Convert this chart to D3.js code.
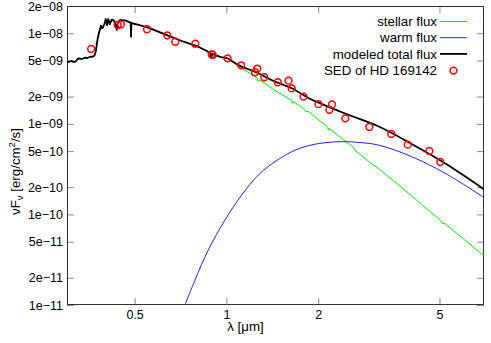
<html>
<head>
<script src="https://d3js.org/d3.v7.min.js"></script>
<style>
body { margin: 0; background: #fff; }
text { font-family: "Liberation Sans", Arial, sans-serif; }
</style>
</head>
<body>
<svg id="chart" width="491" height="343"></svg>
<script>
// photometry of HD 169142 (wavelength in micron, nuFnu in erg/cm2/s)
var sedWave = [0.36, 0.44, 0.451, 0.549, 0.64, 0.68, 0.791, 0.895, 0.902, 1.009, 1.118, 1.241, 1.263, 1.331,
    1.474, 1.599, 1.638, 1.791, 2.005, 2.221, 2.177, 2.456, 2.944, 3.476, 3.935, 4.631, 5.032];
var sedFlux = [6.71e-9, 1.234e-8, 1.256e-8, 1.107e-8, 9.5e-9, 8.07e-9, 7.67e-9, 5.86e-9, 5.76e-9, 5.29e-9, 4.43e-9,
    3.71e-9, 4.08e-9, 3.27e-9, 2.88e-9, 3.0e-9, 2.46e-9, 2.0e-9, 1.65e-9, 1.64e-9, 1.43e-9, 1.15e-9, 9.24e-10,
    7.73e-10, 5.89e-10, 5.02e-10, 3.79e-10];

// optical part of the model spectrum (stellar == total here)
var optWave = [0.300, 0.305, 0.311, 0.315, 0.319, 0.323, 0.327, 0.335, 0.344, 0.350, 0.357, 0.363, 0.369, 0.3727,
    0.3783, 0.3829, 0.3878, 0.3917, 0.3977, 0.4019, 0.4058, 0.4099, 0.4142, 0.4206, 0.4269, 0.4335, 0.4368, 0.440,
    0.4477, 0.465, 0.483, 0.4852, 0.4866, 0.488, 0.508, 0.5545, 0.6289, 0.7136, 0.8089, 0.8724, 0.880, 0.886,
    0.892, 0.900, 0.920, 0.960, 0.990];
var optFlux = [4.78e-9, 4.85e-9, 4.94e-9, 4.82e-9, 4.86e-9, 5.05e-9, 5.29e-9, 5.2e-9, 5.37e-9, 5.33e-9, 5.51e-9,
    5.5e-9, 5.65e-9, 6.26e-9, 8.8e-9, 1.04e-8, 1.213e-8, 1.135e-8, 1.256e-8, 1.437e-8, 1.234e-8, 1.437e-8,
    1.256e-8, 1.412e-8, 1.39e-8, 1.234e-8, 1.087e-8, 1.32e-8, 1.4e-8, 1.39e-8, 1.32e-8, 1.31e-8, 9.17e-9,
    1.29e-8, 1.256e-8, 1.152e-8, 9.74e-9, 8.22e-9, 7.11e-9, 6.26e-9, 5.6e-9, 6.0e-9, 5.5e-9, 5.9e-9, 5.75e-9,
    5.45e-9, 5.35e-9];

// stellar model beyond 1 micron (green)
var stelWave = [1.009, 1.094, 1.26, 1.273, 1.289, 1.425, 1.63, 1.65, 1.66, 1.80, 1.82, 1.857, 2.15, 2.16, 2.17,
    2.45, 2.62, 2.64, 2.96, 3.15, 4.055, 5.08, 5.1, 5.215, 7.05];
var stelFlux = [5.29e-9, 4.35e-9, 3.2e-9, 2.95e-9, 3.05e-9, 2.4e-9, 1.83e-9, 1.68e-9, 1.76e-9, 1.45e-9, 1.36e-9,
    1.37e-9, 9.2e-10, 8.5e-10, 8.9e-10, 6.5e-10, 5.45e-10, 5.1e-10, 3.75e-10, 3.23e-10, 1.6e-10, 8.4e-11, 8.0e-11,
    7.9e-11, 3.42e-11];

// warm dust component (blue)
var warmWave = [0.7313, 0.789, 0.872, 0.990, 1.123, 1.273, 1.444, 1.638, 1.857, 2.107, 2.389, 2.642, 3.15, 4.055,
    5.215, 7.055];
var warmFlux = [1.0e-11, 1.89e-11, 4.05e-11, 8.69e-11, 1.64e-10, 2.73e-10, 3.82e-10, 4.93e-10, 5.74e-10, 6.2e-10,
    6.36e-10, 6.28e-10, 5.84e-10, 4.34e-10, 2.85e-10, 1.51e-10];

// modeled total beyond 1 micron (black)
var totWave = [1.009, 1.094, 1.273, 1.444, 1.638, 1.857, 2.107, 2.45, 3.15, 4.055, 5.215, 7.055];
var totFlux = [5.29e-9, 4.47e-9, 3.62e-9, 2.92e-9, 2.47e-9, 1.93e-9, 1.6e-9, 1.3e-9, 9.4e-10, 6.0e-10, 3.67e-10,
    1.86e-10];

var xTicks = [0.5, 1, 2, 5];
var yTicks = [1e-11, 2e-11, 5e-11, 1e-10, 2e-10, 5e-10, 1e-9, 2e-9, 5e-9, 1e-8, 2e-8];

var legendNames = ['stellar flux', 'warm flux', 'modeled total flux', 'SED of HD 169142'];
var legendColors = ['#00e600', '#2020ff', '#000000', '#ff0000'];

var width = 491, height = 343;
var margin = {top: 6, right: 7, bottom: 38, left: 67};
var svg = d3.select('#chart');

var x = d3.scaleLog().domain([0.3, 7]).range([margin.left, width - margin.right]);
var y = d3.scaleLog().domain([1e-11, 2e-8]).range([height - margin.bottom, margin.top]);

function fmtY(d) {
    var e = Math.round(Math.log10(d) - 0.3);
    var m = Math.round(d / Math.pow(10, e));
    var ee = Math.abs(e);
    return m + 'e\u2212' + (ee < 10 ? '0' + ee : ee);
}

svg.append('clipPath').attr('id', 'clip')
    .append('rect')
    .attr('x', margin.left).attr('y', margin.top)
    .attr('width', width - margin.left - margin.right)
    .attr('height', height - margin.top - margin.bottom);

// axes, ticks pointing inward
var axB = svg.append('g')
    .attr('transform', 'translate(0,' + (height - margin.bottom) + ')')
    .call(d3.axisBottom(x).tickValues(xTicks).tickFormat(d3.format('')).tickSizeInner(-7).tickSizeOuter(0).tickPadding(5));
var axT = svg.append('g')
    .attr('transform', 'translate(0,' + margin.top + ')')
    .call(d3.axisTop(x).tickValues(xTicks).tickFormat('').tickSizeInner(-7).tickSizeOuter(0));
var axL = svg.append('g')
    .attr('transform', 'translate(' + margin.left + ',0)')
    .call(d3.axisLeft(y).tickValues(yTicks).tickFormat(fmtY).tickSizeInner(-7).tickSizeOuter(0).tickPadding(4));
var axR = svg.append('g')
    .attr('transform', 'translate(' + (width - margin.right) + ',0)')
    .call(d3.axisRight(y).tickValues(yTicks).tickFormat('').tickSizeInner(-7).tickSizeOuter(0));

[axB, axT, axL, axR].forEach(function(g) {
    g.select('.domain').remove();
    g.selectAll('.tick line').attr('stroke', '#888');
    g.attr('font-size', 12.5).attr('font-family', '"Liberation Sans", Arial, sans-serif');
    g.selectAll('text').attr('fill', '#000');
});

svg.append('rect')
    .attr('x', margin.left + 0.5).attr('y', margin.top + 0.5)
    .attr('width', width - margin.left - margin.right - 1)
    .attr('height', height - margin.top - margin.bottom - 1)
    .attr('fill', 'none').attr('stroke', '#333').attr('stroke-width', 1);

var line = d3.line().x(function(d) { return x(d[0]); }).y(function(d) { return y(d[1]); });
var smooth = d3.line().curve(d3.curveCatmullRom.alpha(0.5))
    .x(function(d) { return x(d[0]); }).y(function(d) { return y(d[1]); });

var plot = svg.append('g').attr('clip-path', 'url(#clip)');

var stellar = d3.zip(optWave, optFlux).concat(d3.zip(stelWave, stelFlux));
var warm = d3.zip(warmWave, warmFlux);

plot.append('path').datum(stellar)
    .attr('d', line).attr('fill', 'none').attr('stroke', legendColors[0]).attr('stroke-width', 1);
plot.append('path').datum(warm)
    .attr('d', smooth).attr('fill', 'none').attr('stroke', legendColors[1]).attr('stroke-width', 1);
plot.append('path').datum(d3.zip(optWave, optFlux))
    .attr('d', line).attr('fill', 'none').attr('stroke', '#000').attr('stroke-width', 1.8)
    .attr('stroke-linejoin', 'round');
plot.append('path').datum(d3.zip(totWave, totFlux))
    .attr('d', smooth).attr('fill', 'none').attr('stroke', '#000').attr('stroke-width', 1.8);
// join the two black parts
plot.append('path').datum([[optWave[optWave.length - 1], optFlux[optFlux.length - 1]], [totWave[0], totFlux[0]]])
    .attr('d', line).attr('fill', 'none').attr('stroke', '#000').attr('stroke-width', 1.8);

plot.selectAll('circle.sed')
    .data(d3.zip(sedWave, sedFlux))
    .enter()
    .append('circle')
    .attr('class', 'sed')
    .attr('cx', function(d) { return x(d[0]); })
    .attr('cy', function(d) { return y(d[1]); })
    .attr('r', 3.4)
    .attr('fill', 'none')
    .attr('stroke', '#ff0000')
    .attr('stroke-width', 1.5);

// legend
var lg = svg.append('g');
legendNames.forEach(function(name, i) {
    var ly = 21.5 + i * 16.2;
    lg.append('text')
        .attr('x', 437).attr('y', ly).attr('dy', '0.35em')
        .attr('text-anchor', 'end').attr('font-size', 13.3)
        .text(name);
    if (i < 3) {
        lg.append('line')
            .attr('x1', 440).attr('x2', 467).attr('y1', ly).attr('y2', ly)
            .attr('stroke', legendColors[i]).attr('stroke-width', i == 2 ? 1.8 : 1);
    } else {
        lg.append('circle')
            .attr('cx', 453.5).attr('cy', ly + 0.5).attr('r', 3.4)
            .attr('fill', 'none').attr('stroke', legendColors[i]).attr('stroke-width', 1.5);
    }
});

// axis labels
svg.append('text')
    .attr('x', 245.5).attr('y', 331)
    .attr('text-anchor', 'middle').attr('font-size', 13.3)
    .text('\u03bb [\u03bcm]');

var yl = svg.append('text')
    .attr('transform', 'translate(19.5,171.5) rotate(-90)')
    .attr('text-anchor', 'middle').attr('font-size', 13.3);
yl.append('tspan').text('\u03bdF');
yl.append('tspan').attr('dy', 3).attr('font-size', 9.5).text('\u03bd');
yl.append('tspan').attr('dy', -3).text(' [erg/cm');
yl.append('tspan').attr('dy', -5).attr('font-size', 9.5).text('2');
yl.append('tspan').attr('dy', 5).text('/s]');
</script>
</body>
</html>
